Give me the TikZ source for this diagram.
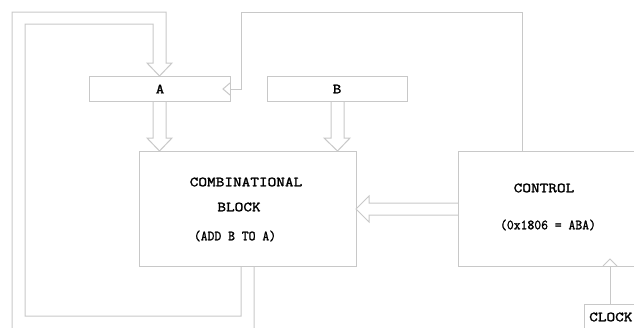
\documentclass[tikz,border=0pt]{standalone}
\usepackage{fontspec}
\newfontfamily\diagfont{Latin Modern Mono}[FakeBold=1.6]
\usetikzlibrary{calc}
\definecolor{linegray}{RGB}{200,200,200}
\tikzset{
  line/.style={draw=linegray, line width=1pt},
  boxnode/.style={line, rectangle, inner sep=0pt, anchor=north west},
  lbl/.style={font=\diagfont\fontsize{14}{14}\selectfont, text=black, inner sep=0pt},
}
\newcommand{\wide}[1]{\scalebox{1.2}[1]{#1}}
\newcommand{\narrow}[1]{\scalebox{0.95}[1]{#1}}
\begin{document}
\begin{tikzpicture}[x=1pt,y=-1pt]
\useasboundingbox (0,0) rectangle (634,327);
\clip (0,0) rectangle (634,327);
% boxes
\node[boxnode, minimum width=141pt, minimum height=25pt] (A) at (89,76) {};
\node[boxnode, minimum width=140pt, minimum height=25pt] (B) at (267,76) {};
\node[boxnode, minimum width=217pt, minimum height=115pt] (comb) at (139,151) {};
\node[boxnode, minimum width=200pt, minimum height=115pt] (ctrl) at (458,151) {};
\node[boxnode, minimum width=80pt, minimum height=40pt] (clk) at (584,304) {};
% labels
\node[lbl] (tA) at (160,89) {\wide{A}};
\node[lbl] (tB) at (337,89) {\wide{B}};
\node[lbl] (t1) at (246,182) {\wide{COMBINATIONAL}};
\node[lbl] (t2) at (239,207) {\wide{BLOCK}};
\node[lbl] (t3) at (235,236) {\narrow{(ADD B TO A)}};
\node[lbl] (t4) at (544,188) {\wide{CONTROL}};
\node[lbl] (t5) at (548,225) {\narrow{(0x1806 = ABA)}};
\node[lbl, anchor=west] (t6) at (589,317) {\wide{CLOCK}};
% feedback fat arrow: comb bottom -> around -> A top
\draw[line] (254,266) -- (254,332) -- (12,332) -- (12,12) -- (166,12) -- (166,63)
  -- (172,63) -- (159.5,76) -- (147,63) -- (153,63) -- (153,24) -- (25,24)
  -- (25,316) -- (241,316) -- (241,266);
% A -> comb
\draw[line] (153,101) -- (153,138) -- (147,138) -- (159.5,151) -- (172,138) -- (166,138) -- (166,101);
% B -> comb
\draw[line] (331,101) -- (331,138) -- (324,138) -- (337.5,151) -- (350,138) -- (344,138) -- (344,101);
% control -> comb
\draw[line] (458,203) -- (369,203) -- (369,196) -- (356,209) -- (369,222) -- (369,215) -- (458,215);
% control top -> A right
\draw[line] (522,151) -- (522,12) -- (241,12) -- (241,89) -- (230,89);
\draw[line] (230,83) -- (223,89) -- (230,95);
% clock -> control
\draw[line] (610,304) -- (610,266);
\draw[line] (603,266) -- (610,259) -- (617,266);
\end{tikzpicture}
\end{document}
